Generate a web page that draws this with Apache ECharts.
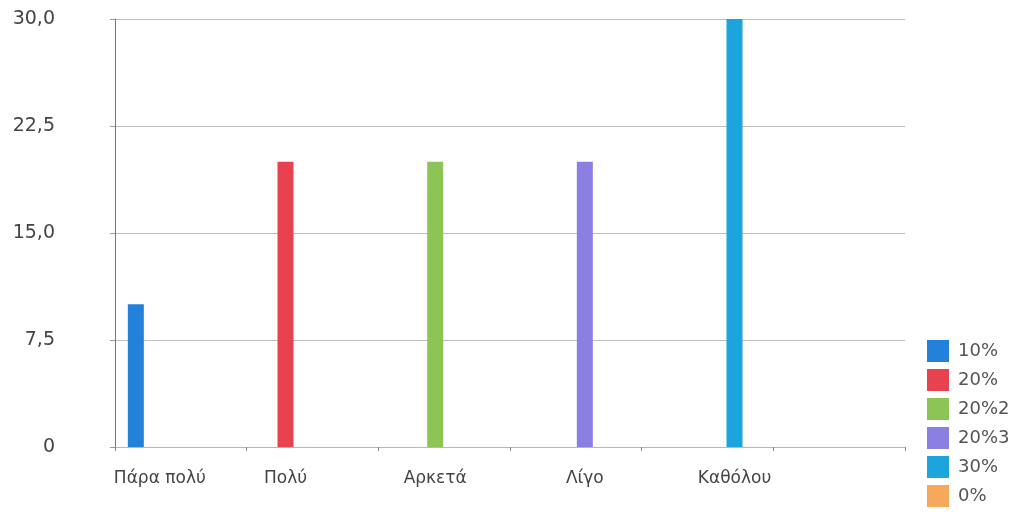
<!DOCTYPE html>
<html>
<head>
<meta charset="utf-8">
<script src="https://cdn.jsdelivr.net/npm/echarts@6/dist/echarts.min.js"></script>
<style>
  html, body { margin: 0; padding: 0; background: #ffffff; }
  #chart { width: 1029px; height: 512px; }
</style>
</head>
<body>
<div id="chart"></div>
<script>
// Answer categories along the x axis (last slot has no label)
const categories = ['Πάρα πολύ', 'Πολύ', 'Αρκετά', 'Λίγο', 'Καθόλου', ''];

// One series per answer share; each carries a single bar in its own category
const seriesNames = ['10%', '20%', '20%2', '20%3', '30%', '0%'];
const values10 = [10, null, null, null, null, null];
const values20 = [null, 20, null, null, null, null];
const values20b = [null, null, 20, null, null, null];
const values20c = [null, null, null, 20, null, null];
const values30 = [null, null, null, null, 30, null];
const values0 = [null, null, null, null, null, 0];

// Value axis ticks
const yTicks = [0, 7.5, 15, 22.5, 30];

const seriesValues = [values10, values20, values20b, values20c, values30, values0];
const colors = ['#2381d9', '#e8414f', '#8dc456', '#8b80e2', '#1ba5dc', '#f7a95b'];

// Horizontal shift (px) of each category label so it sits under its bar
const labelShift = [-21, -27, -9, 9, 27, 0];

const chart = echarts.init(document.getElementById('chart'), null, { renderer: 'canvas' });

const fontFamily = '"DejaVu Sans", sans-serif';

const labelRich = {};
labelShift.forEach((s, i) => {
  labelRich['c' + i] = {
    fontFamily, fontSize: 17, color: '#444',
    padding: s < 0 ? [0, -2 * s, 0, 0] : [0, 0, 0, 2 * s]
  };
});

chart.setOption({
  animation: false,
  backgroundColor: '#ffffff',
  color: colors,
  grid: { left: 115, right: 124, top: 19, bottom: 65, containLabel: false },
  legend: {
    orient: 'vertical',
    left: 922,
    top: 335,
    itemWidth: 22,
    itemHeight: 22,
    itemGap: 7,
    icon: 'rect',
    textStyle: { fontFamily, fontSize: 18, color: '#555', padding: [0, 0, 0, 4] },
    data: seriesNames
  },
  xAxis: {
    type: 'category',
    data: categories,
    boundaryGap: true,
    axisLine: { show: true, lineStyle: { color: '#b8b8b8', width: 1 } },
    axisTick: { show: true, alignWithLabel: false, length: 4, lineStyle: { color: '#888' } },
    axisLabel: {
      margin: 23,
      interval: 0,
      formatter: (v, i) => (v ? '{c' + i + '|' + v + '}' : ''),
      rich: labelRich
    },
    splitLine: { show: false }
  },
  yAxis: {
    type: 'value',
    min: yTicks[0],
    max: yTicks[yTicks.length - 1],
    interval: yTicks[1] - yTicks[0],
    axisLine: { show: true, lineStyle: { color: '#777', width: 1 } },
    axisTick: { show: true, length: 5, lineStyle: { color: '#999' } },
    axisLabel: {
      fontFamily, fontSize: 19, color: '#444', margin: 60,
      align: 'right',
      formatter: v => (v === 0 ? '0' : v.toFixed(1).replace('.', ','))
    },
    splitLine: { show: true, lineStyle: { color: '#bdbdbd', width: 1 } }
  },
  series: seriesNames.map((name, i) => ({
    name,
    type: 'bar',
    data: seriesValues[i],
    barWidth: 16,
    barGap: '12.5%',
    itemStyle: { color: colors[i] }
  }))
});
</script>
</body>
</html>
